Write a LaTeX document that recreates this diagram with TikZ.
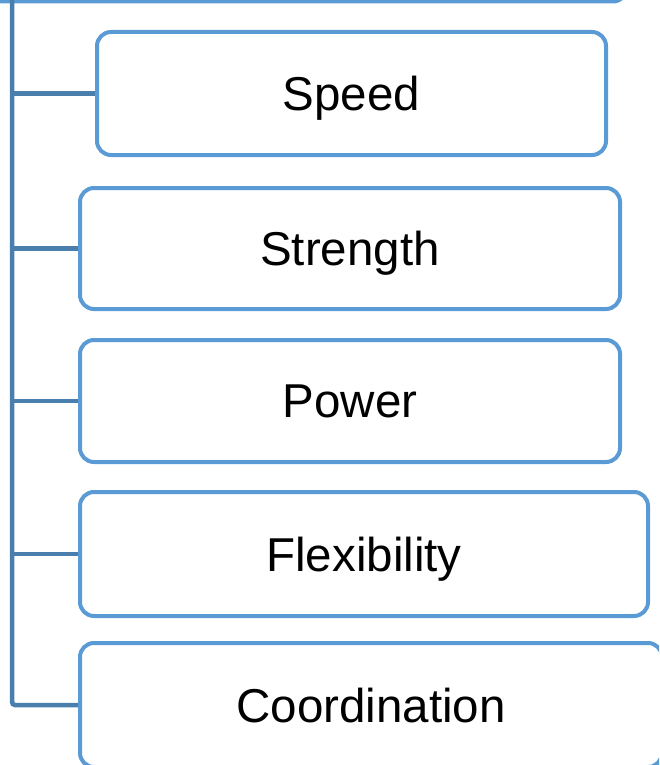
\documentclass[tikz,border=0pt]{standalone}
\usepackage{fontspec}
\setmainfont{Liberation Sans}
\definecolor{boxblue}{HTML}{5B9BD5}
\definecolor{lineblue}{HTML}{4A7EAD}
\begin{document}
\begin{tikzpicture}[x=1pt,y=-1pt,
  itembox/.style={draw=boxblue, line width=4pt, rounded corners=14pt, fill=white,
    inner sep=0pt, text depth=0pt, font=\fontsize{47.5}{56}\selectfont},
  conn/.style={draw=lineblue, line width=4.5pt}]
\useasboundingbox (0,0) rectangle (659,765);
\clip (0,0) rectangle (659,765);
\node[itembox, minimum width=660pt, minimum height=120pt] (top) at (297,-58.5) {};
\coordinate (trunkx) at (12,0);
\node[itembox, minimum width=509pt, minimum height=123pt] (speed) at (351.5,93.5) {Speed};
\node[itembox, minimum width=540pt, minimum height=121pt] (strength) at (350,248.5) {Strength};
\node[itembox, minimum width=540pt, minimum height=122pt] (power) at (350,401) {Power};
\node[itembox, minimum width=568pt, minimum height=124pt] (flex) at (364,554) {Flexibility};
\node[itembox, minimum width=582pt, minimum height=124pt] (coord) at (371,705) {Coordination};
\draw[conn, rounded corners=3pt] ([yshift=4pt]top.south -| trunkx) |- (coord.west);
\draw[conn] (trunkx |- speed.west) -- (speed.west);
\draw[conn] (trunkx |- strength.west) -- (strength.west);
\draw[conn] (trunkx |- power.west) -- (power.west);
\draw[conn] (trunkx |- flex.west) -- (flex.west);
\end{tikzpicture}
\end{document}
